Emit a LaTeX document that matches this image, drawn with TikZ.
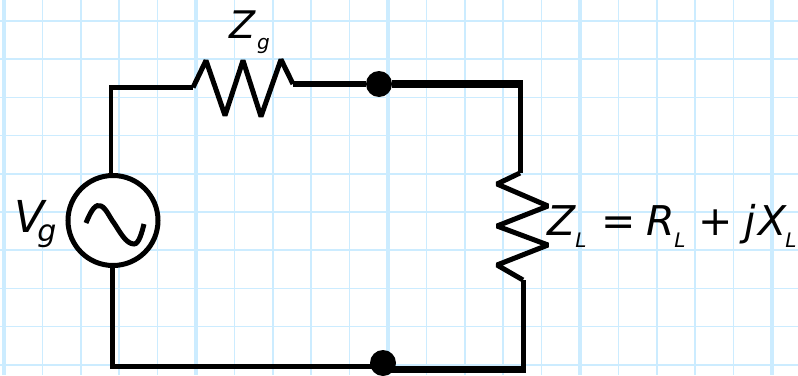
\documentclass[tikz,border=0pt]{standalone}
\usepackage{fontspec}
\setmainfont{DejaVu Sans}
\usetikzlibrary{positioning}

\definecolor{gridblue}{HTML}{CCECFF}
\newcommand{\lowsub}[3]{\raisebox{-#2pt}{\fontsize{#1}{#1}\selectfont\itshape #3}}

\tikzset{
  gridthin/.style = {draw = gridblue, line width = 1.5pt},
  gridthick/.style = {draw = gridblue, line width = 3.2pt},
  wire/.style = {draw, line width = 4.5pt, line join = miter},
  heavywire/.style = {draw, line width = 7.5pt},
  zigzag/.style = {draw, line width = 5pt, line join = bevel},
  solder/.style = {circle, fill, inner sep = 0pt, minimum size = 26pt},
  source/.style = {circle, draw, line width = 5pt, fill = white, inner sep = 0pt, minimum size = 90pt},
  label/.style = {inner sep = 0pt, anchor = base west, font = \fontsize{41}{41}\selectfont\itshape}
}

\begin{document}
\begin{tikzpicture}[x = 1pt, y = -1pt]
  \useasboundingbox (0, 0) rectangle (798, 375);

  % Graph paper
  \foreach \i in {0, ..., 20}
    \draw[gridthin] ({4 + 38.4*\i}, 0) -- ({4 + 38.4*\i}, 375);
  \foreach \j in {0, ..., 9}
    \draw[gridthin] (0, {21 + 38.2*\j}) -- (798, {21 + 38.2*\j});
  \foreach \i in {0, 5, ..., 20}
    \draw[gridthick] ({4 + 38.4*\i}, 0) -- ({4 + 38.4*\i}, 375);
  \draw[gridthick, line width = 2.6pt] (0, 21) -- (798, 21);
  \draw[gridthick, line width = 2.6pt] (0, 212) -- (798, 212);

  % Corners and resistor ends
  \coordinate (topleft) at (111, 87.5);
  \coordinate (zgleft) at (193, 87.5);
  \coordinate (zgright) at (293, 84);
  \coordinate (topright) at (522, 84);
  \coordinate (zltop) at (520, 173);
  \coordinate (zlbottom) at (523, 280);
  \coordinate (botright) at (523, 369.5);
  \coordinate (botleft) at (112, 366);

  \node[source] (vg) at (113, 220.5) {};
  \node[solder] (topdot) at (379, 84) {};
  \node[solder] (botdot) at (383, 363) {};

  % Wires
  \draw[wire] (vg.north -| topleft) -- (topleft) -- (zgleft);
  \draw[wire, line width = 5.5pt] (zgright) -- (topdot);
  \draw[heavywire] (topdot) -- (topright -| zltop) -- ++(3, 0);
  \draw[wire, line width = 5pt] (zltop |- topright) -- (zltop);
  \draw[wire, line width = 5pt] (zlbottom) -- (botright);
  \draw[heavywire] (botdot.south |- botright) -- ++(143, 0);
  \draw[wire, line width = 5pt] (vg.south -| botleft) -- (botleft) -- (botdot.center |- botleft);

  % Resistors
  \draw[zigzag] (zgleft) -- ++(13, -27) -- ++(19, 55) -- ++(18, -55) -- ++(18, 56) -- ++(20, -57) -- (zgright);
  \draw[zigzag] (zltop) -- ++(-23, 11) -- ++(51, 22) -- ++(-51, 20) -- ++(51, 19) -- ++(-51, 20) -- (zlbottom);

  % Sine inside the source
  \draw[line width = 5pt] (86, 223) .. controls (92, 208) and (96, 204) .. (101, 206)
    .. controls (106, 208) and (110, 218) .. (114, 223)
    .. controls (120, 232) and (126, 244) .. (134, 244)
    .. controls (139, 244) and (142, 232) .. (144, 224);

  % Labels
  \node[label, font = \fontsize{38}{38}\selectfont\itshape] (zg) at (229, 38) {Z\hspace{2pt}\lowsub{20}{11}{g}};
  \node[label, font = \fontsize{44}{44}\selectfont\itshape] (vglabel) at (14, 232) {V\hspace{-7pt}\lowsub{30}{9}{g}};
  \node[label] (zl) at (547, 235) {Z\lowsub{20}{12}{L}\hspace{15pt}{\upshape =}\hspace{11pt}R\hspace{-1pt}\lowsub{20}{12}{L}\hspace{13pt}{\upshape +}\hspace{12pt}j\hspace{2pt}X\hspace{-1pt}\lowsub{20}{12}{L}};
\end{tikzpicture}
\end{document}
